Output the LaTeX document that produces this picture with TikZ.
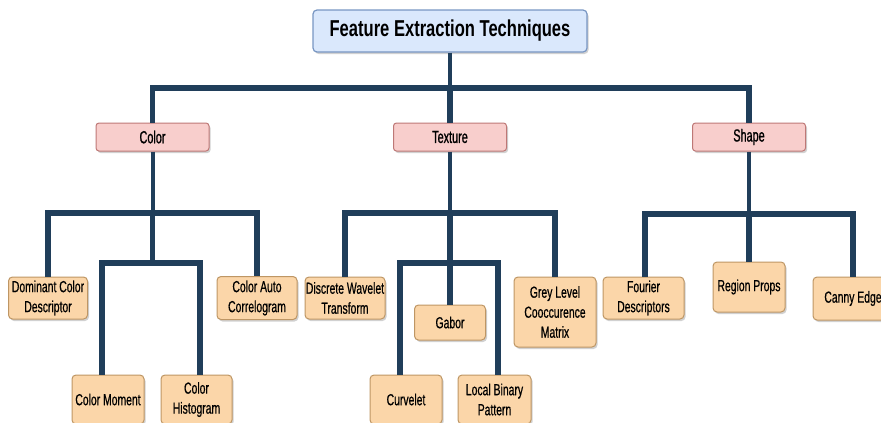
\documentclass[tikz,border=0pt]{standalone}
\usepackage{fontspec}
\setmainfont{Liberation Sans}[FakeStretch=0.72]
\newfontfamily\catfont{Liberation Sans}[FakeStretch=0.62,FakeBold=1]
\newfontfamily\leaffont{Liberation Sans}[FakeStretch=0.65,FakeBold=0.6]
\usetikzlibrary{shadows}

\definecolor{linecol}{RGB}{32,62,90}
\definecolor{rootfill}{RGB}{218,232,252}
\definecolor{rootdraw}{RGB}{120,150,195}
\definecolor{catfill}{RGB}{248,206,204}
\definecolor{catdraw}{RGB}{190,120,118}
\definecolor{leaffill}{RGB}{251,214,169}
\definecolor{leafdraw}{RGB}{190,150,100}

\tikzset{
  boxshadow/.style={drop shadow={shadow xshift=1.5pt,shadow yshift=-2pt,opacity=0.3,fill=black!60}},
  rootbox/.style={draw=rootdraw,fill=rootfill,rounded corners=4pt,line width=1.2pt,boxshadow,
    minimum width=274pt,minimum height=42pt,inner sep=0pt,font=\bfseries\fontsize{23}{26}\selectfont},
  catbox/.style={draw=catdraw,fill=catfill,rounded corners=3pt,line width=1pt,boxshadow,
    minimum width=113pt,minimum height=28pt,inner sep=0pt,font=\catfont\fontsize{17.5}{20}\selectfont},
  leafbox/.style={draw=leafdraw,fill=leaffill,rounded corners=4pt,line width=1pt,boxshadow,
    align=center,inner sep=0pt,font=\leaffont\fontsize{16}{20}\selectfont},
  conn/.style={draw=linecol,line width=5.5pt,line join=miter},
  thinconn/.style={draw=linecol,line width=4pt}
}

\begin{document}
\begin{tikzpicture}[x=1pt,y=-1pt]
\useasboundingbox (0,0) rectangle (881,423);

% top level
\node[rootbox] (root) at (450,31) {Feature Extraction Techniques};
\node[catbox] (color) at (152.5,137) {Color};
\node[catbox] (texture) at (450,137) {Texture};
\node[catbox] (shape) at (749,137) {Shape};

% color leaves
\node[leafbox,minimum width=79pt,minimum height=42pt] (dcd) at (48,298) {Dominant Color\\Descriptor};
\node[leafbox,minimum width=80pt,minimum height=43pt] (cac) at (257,298) {Color Auto\\Correlogram};
\node[leafbox,minimum width=72pt,minimum height=49pt] (cm) at (108,399.5) {Color Moment};
\node[leafbox,minimum width=71pt,minimum height=49pt] (ch) at (196.5,399.5) {Color\\Histogram};

% texture leaves
\node[leafbox,minimum width=80pt,minimum height=42pt] (dwt) at (345,298) {Discrete Wavelet\\Transform};
\node[leafbox,minimum width=71pt,minimum height=35pt] (gabor) at (450,322.5) {Gabor};
\node[leafbox,minimum width=82pt,minimum height=70pt] (glcm) at (555,312) {Grey Level\\Cooccurence\\Matrix};
\node[leafbox,minimum width=72pt,minimum height=49pt] (curvelet) at (406,399.5) {Curvelet};
\node[leafbox,minimum width=73pt,minimum height=49pt] (lbp) at (494.5,399.5) {Local Binary\\Pattern};

% shape leaves
\node[leafbox,minimum width=81pt,minimum height=42pt] (fd) at (643.5,298) {Fourier\\Descriptors};
\node[leafbox,minimum width=72pt,minimum height=50pt] (rp) at (749,287) {Region Props};
\node[leafbox,minimum width=80pt,minimum height=43pt] (canny) at (853,298.5) {Canny Edge};

% joints
\coordinate (topbar) at (450,88);
\coordinate (colorbar) at (152.5,213);
\coordinate (colorinner) at (152.5,263);
\coordinate (texturebar) at (450,213);
\coordinate (textureinner) at (450,263);
\coordinate (shapebar) at (749,214);

% connectors
\draw[thinconn] (root.south) -- (topbar);
\draw[conn] (color.north) |- (topbar) -| (shape.north);
\draw[conn] (texture.north) -- (topbar);

\draw[thinconn] (color.south) -- (colorbar);
\draw[conn] (dcd.north) |- (colorbar) -| (cac.north);
\draw[conn] (colorbar) -- (colorinner);
\draw[conn] ([xshift=-6pt]cm.north) |- (colorinner) -| ([xshift=3.5pt]ch.north);

\draw[thinconn] (texture.south) -- (texturebar);
\draw[conn] (dwt.north) |- (texturebar) -| (glcm.north);
\draw[conn] (texturebar) -- (gabor.north);
\draw[conn] ([xshift=-6pt]curvelet.north) |- (textureinner) -| ([xshift=3.5pt]lbp.north);

\draw[thinconn] (shape.south) -- (shapebar);
\draw[conn] ([xshift=1.5pt]fd.north) |- (shapebar) -| (canny.north);
\draw[conn] (shapebar) -- (rp.north);
\end{tikzpicture}
\end{document}
